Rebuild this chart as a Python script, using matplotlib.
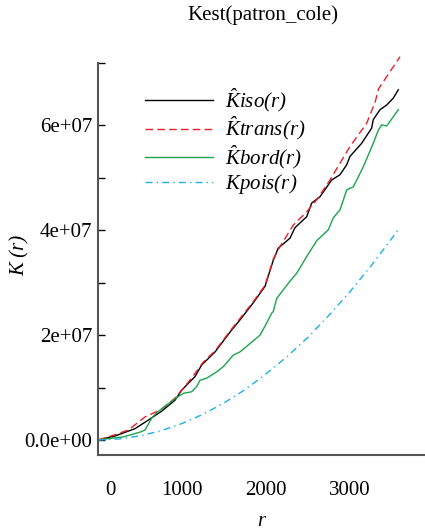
import numpy as np
import matplotlib
matplotlib.use("Agg")
import matplotlib.pyplot as plt
import matplotlib.transforms as mtransforms

# K function estimates for patron_cole, K in units of 1e6
r_iso = [0, 202, 440, 599, 758, 917, 996, 1075, 1155, 1234, 1393, 1592, 1690, 1845, 1930, 1988, 2087,
         2146, 2286, 2345, 2485, 2544, 2643, 2782, 2881, 2961, 3000, 3139, 3258, 3277, 3357, 3437, 3515, 3575]
k_iso = [0, 0.76, 2.16, 3.8, 5.5, 7.6, 9.5, 10.8, 12.1, 14.3, 16.8, 21.0, 22.9, 26.1, 28.0, 29.3, 34.3,
         36.6, 38.5, 40.5, 42.6, 45.2, 46.4, 49.6, 50.6, 52.5, 54.1, 56.6, 59.5, 61.1, 63.0, 63.9, 65.2, 66.8]

r_trans = [0, 200, 361, 560, 750, 917, 1115, 1250, 1393, 1592, 1845, 1988, 2087, 2167, 2325, 2483,
           2603, 2762, 2881, 3000, 3198, 3300, 3340, 3595]
k_trans = [0, 1.0, 1.9, 4.4, 5.8, 8.0, 11.8, 14.8, 17.0, 21.2, 26.3, 29.5, 34.5, 36.9, 41.0, 43.5,
           45.8, 49.6, 52.8, 56.0, 60.4, 64.5, 67.0, 73.1]

r_bord = [0, 301, 500, 560, 640, 698, 818, 937, 1016, 1115, 1175, 1214, 1294, 1413, 1492, 1611, 1690,
          1810, 1929, 2008, 2068, 2087, 2127, 2286, 2365, 2485, 2603, 2742, 2802, 2881, 2961, 3040,
          3158, 3277, 3337, 3377, 3437, 3575]
k_bord = [0, 0.6, 1.5, 1.9, 4.2, 5.2, 6.7, 8.1, 8.9, 9.2, 10.2, 11.4, 11.8, 13.0, 14.0, 16.2, 16.8,
          18.4, 20.0, 22.3, 24.2, 24.5, 27.0, 30.3, 31.8, 35.0, 38.0, 40.1, 42.4, 43.9, 47.7, 48.3,
          52.1, 56.6, 59.1, 60.1, 59.9, 63.0]

r_pois = [0, 250, 500, 750, 1000, 1250, 1500, 1750, 2000, 2250, 2500, 2750, 3000, 3250, 3500, 3580]
k_pois = [0, 0.2, 0.79, 1.77, 3.14, 4.9, 7.07, 9.6, 12.6, 15.9, 19.6, 23.8, 28.3, 33.2, 38.5, 40.3]

labels = [r"$\hat{K}iso(r)$", r"$\hat{K}trans(r)$", r"$\hat{K}bord(r)$", r"$Kpois(r)$"]
x_ticks = [0, 1000, 2000, 3000]
y_major = [0, 2e7, 4e7, 6e7]
y_major_labels = ["0.0e+00", "2e+07", "4e+07", "6e+07"]
y_minor = [1e7, 3e7, 5e7, 7.2e7]


def config_plots():
    matplotlib.rcParams["font.family"] = ["Liberation Serif", "DejaVu Serif"]
    # legend labels are mathtext, keep every glyph italic (parentheses too)
    matplotlib.rcParams["mathtext.fontset"] = "custom"
    matplotlib.rcParams["mathtext.rm"] = "Liberation Serif:italic"
    matplotlib.rcParams["mathtext.it"] = "Liberation Serif:italic"
    matplotlib.rcParams["font.size"] = 15


config_plots()
fig = plt.figure(figsize=(4.25, 5.31), dpi=100)
ax = fig.add_axes([98 / 425, 76 / 531, 327 / 425, 415 / 531])

ax.plot(r_iso, np.array(k_iso) * 1e6, color="black", lw=1.0, label=labels[0])
ax.plot(r_trans, np.array(k_trans) * 1e6, color="#e8202a", lw=1.0, dashes=(5.5, 3), label=labels[1])
ax.plot(r_bord, np.array(k_bord) * 1e6, color="#1aa54a", lw=1.0, label=labels[2])
ax.plot(r_pois, np.array(k_pois) * 1e6, color="#1ab2ea", lw=1.0, dashes=(5, 3, 1, 3), label=labels[3])

ax.set_xlim(0, 3893)
ax.set_ylim(-2.86e6, 76.3e6)

for side in ["top", "right"]:
    ax.spines[side].set_visible(False)
for side in ["left", "bottom"]:
    ax.spines[side].set_color("#555555")
    ax.spines[side].set_linewidth(1.5)
ax.spines["left"].set_bounds(-2.86e6, 7.2e7)

ax.set_yticks(y_major)
ax.set_yticklabels(y_major_labels)
ax.set_yticks(y_minor, minor=True)
ax.tick_params(axis="y", which="both", direction="in", length=5, width=1, color="black", pad=4.3)
ax.set_xticks(x_ticks)
ax.set_xticklabels([str(v) for v in x_ticks])
ax.tick_params(axis="x", length=0, pad=19)
# push the 0 label off the y axis
lbl0 = ax.get_xticklabels()[0]
lbl0.set_transform(lbl0.get_transform() + mtransforms.ScaledTranslation(12 / 100, 0, fig.dpi_scale_trans))

ax.set_xlabel("r", fontstyle="italic", labelpad=8)
ax.set_ylabel("K (r)", fontstyle="italic")
ax.yaxis.set_label_coords(-0.21, 0.48)

leg = ax.legend(loc="upper left", bbox_to_anchor=(145 / 425, 1 - 86 / 531), bbox_transform=fig.transFigure,
                frameon=False, borderpad=0, borderaxespad=0, handlelength=3.27, handletextpad=0.58,
                labelspacing=0.05)

fig.text(263 / 425, 1 - 15 / 531, "Kest(patron_cole)", ha="center", va="center")

plt.savefig("out.png", dpi=100)
